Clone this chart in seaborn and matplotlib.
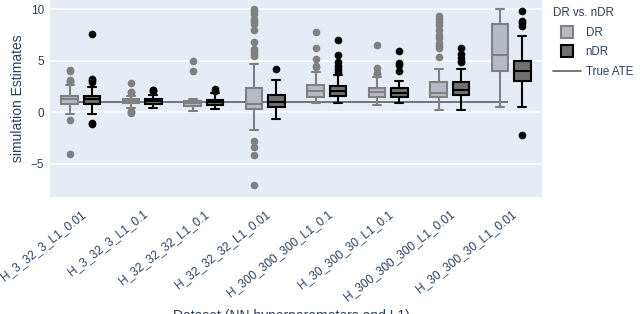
import numpy as np
import pandas as pd
import matplotlib.pyplot as plt
import seaborn as sns
from matplotlib.lines import Line2D

# --- data (box summaries per dataset) ---
datasets = ['H_3_32_3_L1_0.01', 'H_3_32_3_L1_0.1', 'H_32_32_32_L1_0.1',
            'H_32_32_32_L1_0.01', 'H_300_300_300_L1_0.1', 'H_30_300_30_L1_0.1',
            'H_300_300_300_L1_0.01', 'H_30_300_30_L1_0.01']
true_ate = 1.0

dr_lo = [-0.2, 0.4, 0.15, -1.68, 0.9, 0.71, 0.19, 0.55]
dr_q1 = [0.81, 0.87, 0.61, 0.36, 1.52, 1.52, 1.49, 4.05]
dr_med = [1.29, 1.1, 0.87, 0.78, 2.1, 1.97, 1.84, 5.57]
dr_q3 = [1.62, 1.3, 1.1, 2.39, 2.65, 2.36, 2.91, 8.6]
dr_hi = [2.6, 1.6, 1.3, 4.66, 3.95, 3.4, 4.2, 10.0]
dr_fliers = [
    [-4.05, -0.74, 2.9, 3.0, 3.1, 4.0, 4.1],
    [-0.1, 0.0, 0.1, 1.98, 2.0, 2.88],
    [4.05, 4.95],
    [-7.1, -4.2, -3.35, -2.8, 5.5, 5.7, 5.9, 6.1, 6.8, 8.0, 8.6, 8.9, 9.1, 9.5, 9.8, 10.0],
    [4.4, 4.5, 5.18, 6.28, 7.8],
    [3.7, 3.75, 3.8, 4.27, 6.5],
    [5.4, 6.2, 6.47, 6.76, 7.25, 7.5, 8.0, 8.48, 8.8, 9.06, 9.3],
    [],
]

ndr_lo = [-0.2, 0.39, 0.3, -0.61, 0.87, 0.87, 0.19, 0.52]
ndr_q1 = [0.78, 0.84, 0.68, 0.55, 1.62, 1.52, 1.65, 3.04]
ndr_med = [1.26, 1.1, 0.97, 0.97, 2.1, 1.9, 2.17, 4.0]
ndr_q3 = [1.55, 1.33, 1.2, 1.72, 2.52, 2.36, 2.91, 5.0]
ndr_hi = [2.43, 1.7, 1.9, 3.17, 3.6, 3.04, 4.2, 7.4]
ndr_fliers = [
    [-1.13, -1.0, 2.98, 3.14, 3.2, 7.6],
    [2.1, 2.12, 2.2],
    [2.1, 2.23],
    [4.2],
    [3.9, 4.17, 4.5, 4.92, 5.57, 7.0],
    [4.05, 4.6, 4.8, 5.9],
    [4.85, 4.95, 5.24, 5.7, 6.2],
    [-2.23, 8.38, 8.64, 8.9, 9.84],
]


def sample_from_summary(lo, q1, med, q3, hi, fliers, k=30):
    # repeated quartile values so the library recovers the same box summary
    return list(fliers) + [lo, hi] + [q1] * k + [med] * k + [q3] * k


rows = []
for model, los, q1s, meds, q3s, his, fls in [
        ('DR', dr_lo, dr_q1, dr_med, dr_q3, dr_hi, dr_fliers),
        ('nDR', ndr_lo, ndr_q1, ndr_med, ndr_q3, ndr_hi, ndr_fliers)]:
    for i, name in enumerate(datasets):
        for v in sample_from_summary(los[i], q1s[i], meds[i], q3s[i], his[i], fls[i]):
            rows.append((name, model, v))
df = pd.DataFrame(rows, columns=['dataset', 'model', 'estimate'])

# --- style ---
TXT = '#2a3f5f'
DR_FILL, DR_EDGE = '#b5b9c3', '#808080'
NDR_FILL, NDR_EDGE = '#707070', 'black'
sns.set_theme(style='darkgrid', rc={
    'axes.facecolor': '#E5ECF6', 'grid.color': 'white', 'grid.linewidth': 1.2,
    'xtick.color': TXT, 'ytick.color': TXT, 'axes.labelcolor': TXT,
})
plt.rcParams['font.family'] = ['Liberation Sans', 'DejaVu Sans']

fig = plt.figure(figsize=(6.4, 3.14), dpi=100)
ax = fig.add_axes([50 / 640, 1 - 197 / 314, 492 / 640, 197 / 314])

sns.boxplot(data=df, x='dataset', y='estimate', hue='model',
            order=datasets, hue_order=['DR', 'nDR'],
            width=0.72, gap=0.25, linewidth=1.5, fliersize=4.5,
            palette={'DR': DR_FILL, 'nDR': NDR_FILL},
            legend=False, ax=ax)

styles = [(DR_FILL, DR_EDGE), (NDR_FILL, NDR_EDGE)]
for cont, (fc, ec) in zip(ax.containers, styles):
    for b in cont.boxes:
        b.set_facecolor(fc)
        b.set_edgecolor(ec)
        b.set_linewidth(1.5)
    for ln in list(cont.whiskers) + list(cont.caps) + list(cont.medians):
        ln.set_color(ec)
        ln.set_linewidth(1.5)
    for f in cont.fliers:
        f.set_markerfacecolor(ec)
        f.set_markeredgecolor(ec)
        f.set_marker('o')
        f.set_markersize(4.5)

ax.hlines(true_ate, -0.3, 6.95, color='#6b6b6b', lw=1.3, zorder=0.9)

ax.set_xlim(-0.5, len(datasets) - 0.5)
ax.set_ylim(-8.23, 10.9)
ax.set_yticks([-5, 0, 5, 10])
ax.xaxis.grid(False)
ax.tick_params(axis='y', length=0, labelsize=8.5, pad=4)
ax.tick_params(axis='x', length=0, labelsize=8.6, pad=8)
for lbl in ax.get_xticklabels():
    lbl.set_rotation(38.5)
    lbl.set_ha('right')
    lbl.set_va('top')
    lbl.set_rotation_mode('anchor')
ax.set_ylabel('simulation Estimates', fontsize=10, labelpad=4)
ax.set_xlabel('Dataset (NN hyperparameters and L1)', fontsize=10, va='top')
# the reference shows this title only partly, at the bottom edge
ax.xaxis.set_label_coords(0.49, -0.57)
for s in ax.spines.values():
    s.set_visible(False)

handles = [Line2D([], [], ls='none', marker='s', markersize=9,
                  markerfacecolor=DR_FILL, markeredgecolor=DR_EDGE, markeredgewidth=1.5),
           Line2D([], [], ls='none', marker='s', markersize=9,
                  markerfacecolor=NDR_FILL, markeredgecolor=NDR_EDGE, markeredgewidth=1.5),
           Line2D([], [], color='#6b6b6b', lw=1.3)]
leg = fig.legend(handles, ['DR', 'nDR', 'True ATE'], title='DR vs. nDR',
                 loc='upper left', bbox_to_anchor=(546 / 640, 1.0),
                 frameon=False, fontsize=8.3, title_fontsize=8.3,
                 handlelength=2.4, handletextpad=0.4, labelspacing=0.65,
                 borderaxespad=0.25)
leg._legend_box.align = 'left'
for t in leg.get_texts():
    t.set_color(TXT)
leg.get_title().set_color(TXT)

fig.savefig('out.png', dpi=100)
